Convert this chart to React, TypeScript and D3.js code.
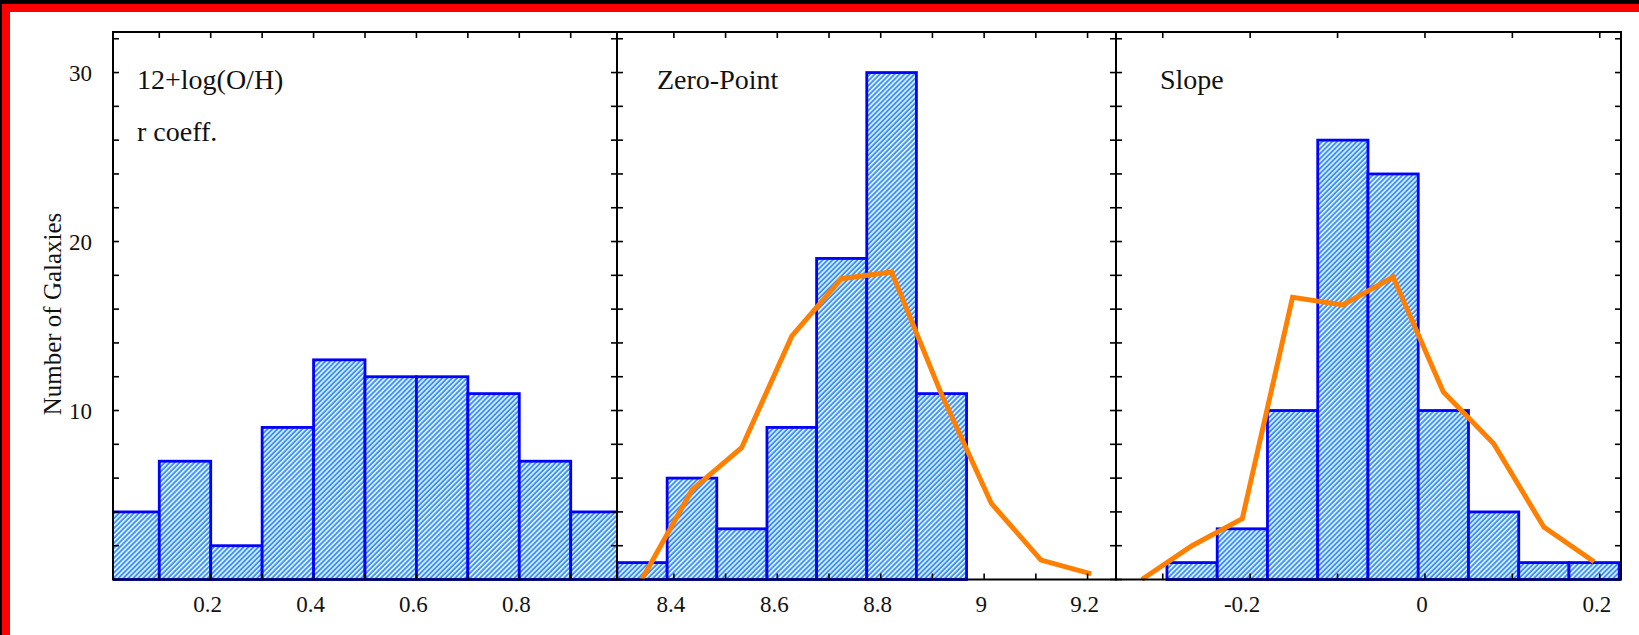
import React from "react";
import * as d3 from "d3";

// ---------- data ----------
const yTickValues = [0, 2, 4, 6, 8, 10, 12, 14, 16, 18, 20, 22, 24, 26, 28, 30, 32];
const yTickLabels = [10, 20, 30];

// Panel 1: 12+log(O/H) r coeff.
const p1Edges = [0, 0.1, 0.2, 0.3, 0.4, 0.5, 0.6, 0.7, 0.8, 0.9, 1.0];
const p1Counts = [4, 7, 2, 9, 13, 12, 12, 11, 7, 4];
const p1Ticks = [0.1, 0.2, 0.3, 0.4, 0.5, 0.6, 0.7, 0.8, 0.9];
const p1Labels = [0.2, 0.4, 0.6, 0.8];

// Panel 2: Zero-Point
const p2Edges = [8.29, 8.387, 8.483, 8.58, 8.676, 8.773, 8.869, 8.966];
const p2Counts = [1, 6, 3, 9, 19, 30, 11];
const p2LineX = [8.338, 8.435, 8.531, 8.628, 8.724, 8.821, 8.917, 9.014, 9.11, 9.207];
const p2LineY = [0, 5.3, 7.8, 14.4, 17.8, 18.2, 11.0, 4.5, 1.15, 0.33];
const p2Ticks = [8.4, 8.5, 8.6, 8.7, 8.8, 8.9, 9.0, 9.1, 9.2];
const p2Labels = [8.4, 8.6, 8.8, 9, 9.2];

// Panel 3: Slope
const p3Edges = [-0.3527, -0.2952, -0.2377, -0.1802, -0.1227, -0.0652, -0.0077, 0.0498, 0.1073, 0.1648, 0.2223];
const p3Counts = [0, 1, 3, 10, 26, 24, 10, 4, 1, 1];
const p3LineX = [-0.324, -0.2665, -0.209, -0.1515, -0.094, -0.0365, 0.021, 0.0785, 0.136, 0.1935];
const p3LineY = [0, 2.0, 3.6, 16.7, 16.25, 17.9, 11.1, 8.05, 3.1, 1.05];
const p3Ticks = [-0.3, -0.2, -0.1, 0, 0.1, 0.2];
const p3Labels = [-0.2, 0, 0.2];

const panelTitles = [["12+log(O/H)", "r coeff."], ["Zero-Point"], ["Slope"]];

// ---------- layout ----------
const W = 1639;
const H = 635;
const TOP = 32;
const BOTTOM = 579.5;
const FONT = "'Liberation Serif', 'Times New Roman', serif";

const y = d3.scaleLinear().domain([0, 32.4]).range([BOTTOM, TOP]);

const panels = [
  { x0: 113, x1: 617, domain: [0.01, 0.99], edges: p1Edges, counts: p1Counts, lx: null, ly: null, ticks: p1Ticks, labels: p1Labels, titles: panelTitles[0], titleDx: 24 },
  { x0: 617, x1: 1116, domain: [8.29, 9.255], edges: p2Edges, counts: p2Counts, lx: p2LineX, ly: p2LineY, ticks: p2Ticks, labels: p2Labels, titles: panelTitles[1], titleDx: 40 },
  { x0: 1116, x1: 1621, domain: [-0.3535, 0.2243], edges: p3Edges, counts: p3Counts, lx: p3LineX, ly: p3LineY, ticks: p3Ticks, labels: p3Labels, titles: panelTitles[2], titleDx: 44 },
];

function fmt(v: number) {
  return String(Math.round(v * 100) / 100);
}

export default function App() {
  const TL = 6;
  return (
    <div style={{ position: "absolute", left: 0, top: 0, width: W, height: H }}>
      <svg width={W} height={H} viewBox={`0 0 ${W} ${H}`} style={{ display: "block" }}>
        <defs>
          <pattern id="hatch" patternUnits="userSpaceOnUse" width={3.5} height={3.5} patternTransform="rotate(45)">
            <rect x={0} y={0} width={3.5} height={3.5} fill="#3592ff" />
            <line x1={0.8} y1={-1} x2={0.8} y2={5} stroke="#ffffff" strokeWidth={1.45} />
          </pattern>
          {panels.map((p, i) => (
            <clipPath id={`clip${i}`} key={i}>
              <rect x={p.x0} y={TOP - 2} width={p.x1 - p.x0} height={BOTTOM - TOP + 4} />
            </clipPath>
          ))}
        </defs>
        {/* frame */}
        <rect x={0} y={0} width={W} height={H} fill="#000" />
        <rect x={2} y={4} width={W - 2} height={H - 4} fill="#ff0000" />
        <rect x={10} y={12} width={W - 10} height={H - 12} fill="#ffffff" />

        {panels.map((p, i) => {
          const x = d3.scaleLinear().domain(p.domain).range([p.x0, p.x1]);
          const line = d3
            .line<number>()
            .x((_, k) => x(p.lx![k]))
            .y((v) => y(v));
          return (
            <g key={i}>
              <g clipPath={`url(#clip${i})`}>
                {p.counts.map((c, k) =>
                  c > 0 ? (
                    <rect
                      key={k}
                      x={x(p.edges[k])}
                      y={y(c)}
                      width={x(p.edges[k + 1]) - x(p.edges[k])}
                      height={y(0) - y(c)}
                      fill="url(#hatch)"
                      stroke="#0000ff"
                      strokeWidth={2.8}
                    />
                  ) : null
                )}
                {p.lx && p.ly ? (
                  <path d={line(p.ly) || ""} fill="none" stroke="#ff8000" strokeWidth={5} strokeLinejoin="miter" />
                ) : null}
              </g>
              {/* frame of panel */}
              <rect x={p.x0} y={TOP} width={p.x1 - p.x0} height={BOTTOM - TOP} fill="none" stroke="#000" strokeWidth={2} />
              {/* x ticks top & bottom */}
              {p.ticks.map((t, k) => (
                <g key={k} stroke="#000" strokeWidth={1.6}>
                  <line x1={x(t)} x2={x(t)} y1={BOTTOM} y2={BOTTOM - TL} />
                  <line x1={x(t)} x2={x(t)} y1={TOP} y2={TOP + TL} />
                </g>
              ))}
              {/* y ticks left & right */}
              {yTickValues.map((t, k) => (
                <g key={k} stroke="#000" strokeWidth={1.6}>
                  <line x1={p.x0} x2={p.x0 + TL} y1={y(t)} y2={y(t)} />
                  <line x1={p.x1} x2={p.x1 - TL} y1={y(t)} y2={y(t)} />
                </g>
              ))}
              {/* x labels */}
              {p.labels.map((t, k) => (
                <text key={k} x={x(t) - (t < 0 ? 8 : 3)} y={612} textAnchor="middle" fontFamily={FONT} fontSize={23} fill="#111">
                  {fmt(t)}
                </text>
              ))}
              {/* titles */}
              {p.titles.map((s, k) => (
                <text key={k} x={p.x0 + p.titleDx} y={89 + k * 52} fontFamily={FONT} fontSize={28} fill="#111">
                  {s}
                </text>
              ))}
            </g>
          );
        })}

        {/* y tick labels */}
        {yTickLabels.map((t) => (
          <text key={t} x={92} y={y(t) + 8} textAnchor="end" fontFamily={FONT} fontSize={23} fill="#111">
            {t}
          </text>
        ))}
        <text
          transform={`translate(61,314) rotate(-90)`}
          textAnchor="middle"
          fontFamily={FONT}
          fontSize={25}
          fill="#111"
        >
          Number of Galaxies
        </text>
      </svg>
    </div>
  );
}
